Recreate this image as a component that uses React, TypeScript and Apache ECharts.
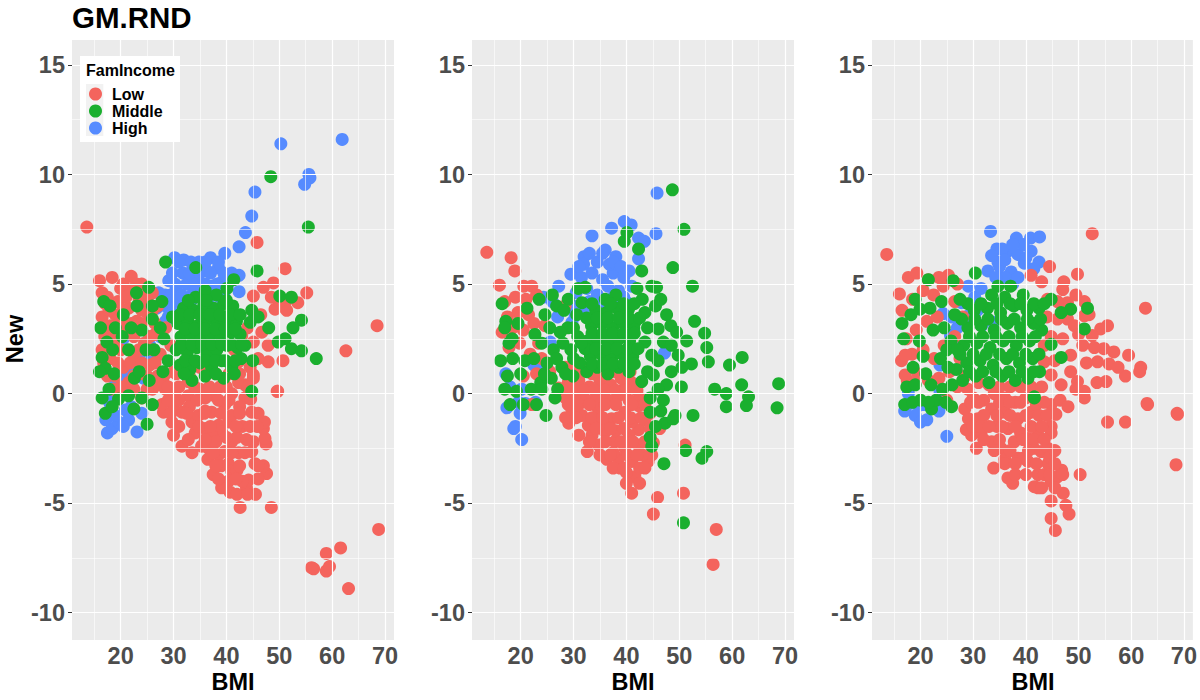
import React, { useEffect, useRef } from "react";
import * as echarts from "echarts";

const categories = ["Low", "Middle", "High"];
const colors = ["#F4645D", "#1AAF2E", "#568BFF"];
const xTicks = [20, 30, 40, 50, 60, 70];
const xMinor = [15, 25, 35, 45, 55, 65];
const yTicks = [-10, -5, 0, 5, 10, 15];
const yMinor = [-7.5, -2.5, 2.5, 7.5, 12.5];
const panelTitle = "GM.RND";
const xTitle = "BMI";
const yTitle = "New";
const legendTitle = "FamIncome";

// ---------- Panel 1 ----------
const p1Low = [
  [13.6, 7.6], [45.8, 6.9], [51.1, 5.7], [55.2, 4.6], [68.5, 3.1], [62.6, 1.95], [50.7, 1.5], [49.6, 0.1],
  [45.1, 4.45], [47.0, 4.85], [48.9, 5.05], [51.1, 4.15], [53.5, 4.15], [49.2, 3.85], [51.4, 3.8], [46.7, 2.8],
  [47.9, 2.2], [47.9, 1.45], [45.1, 2.35], [46.0, 1.6], [45.1, 0.85], [42.9, 2.65], [42.3, 1.45], [44.0, 3.0],
  [46.5, 3.6], [48.5, 4.4], [50.0, 4.2], [44.5, 1.2], [43.5, 0.4], [41.5, 2.0],
  [16.0, 5.15], [18.4, 5.3], [22.0, 5.35], [17.1, 4.1], [16.5, 3.5], [18.0, 3.1], [20.0, 4.8], [24.0, 5.0],
  [26.0, 4.6], [19.5, 4.2], [21.5, 3.9], [23.5, 4.3], [17.0, 2.6], [19.0, 2.2], [21.0, 2.8], [23.0, 3.3],
  [25.0, 3.7], [27.0, 4.0], [18.0, 1.6], [20.5, 1.2], [22.5, 1.8], [24.5, 2.3], [26.5, 2.7], [28.5, 3.0],
  [17.5, 0.8], [21.5, 0.5], [23.5, 0.9], [25.5, 1.3], [27.5, 1.8], [29.5, 2.2], [30.0, 1.0], [28.0, 0.6],
  [26.0, 0.2], [16.5, 4.6], [19.0, 3.6], [22.0, 4.7], [25.0, 4.3], [20.0, 0.3], [24.0, -0.2],
  [20.5, 5.0], [23.0, 5.0], [17.5, 4.4], [21.0, 4.4], [24.5, 4.4], [17.8, 3.8], [20.5, 3.8], [24.0, 3.8],
  [26.0, 3.8], [20.0, 3.2], [22.0, 3.2], [24.0, 3.2], [26.5, 3.2], [18.0, 2.6], [22.5, 2.6], [25.5, 2.6],
  [16.5, 2.0], [20.0, 2.0], [23.5, 2.0], [26.0, 2.0], [16.8, 1.4], [19.5, 1.4], [21.8, 1.4], [24.0, 1.4],
  [26.5, 1.4], [19.0, 0.8], [22.5, 0.8], [25.0, 0.8], [27.0, 0.8], [18.5, 0.2], [22.5, 0.2], [25.0, 0.2],
  [28.5, 0.2],
  [42.3, 0.5], [45.1, 0.7], [37.8, -0.1], [36.0, -0.2], [32.8, -0.1], [29.7, 0.1], [27.2, 0.4], [32.8, 0.55],
  [28.1, -0.85], [27.8, -0.5], [31.6, -0.85], [33.5, -1.3], [34.7, -1.0], [37.2, -0.85], [39.7, -0.5], [30.0, -1.9],
  [29.7, -1.3], [31.6, -2.4], [34.1, -1.8], [36.0, -1.6], [38.5, -1.45], [40.4, -1.3], [41.0, -1.0], [39.1, -1.75],
  [37.2, -1.9], [35.3, -2.4], [36.6, -2.5], [41.0, -2.2], [38.5, -2.8], [39.7, -2.65], [42.3, -2.7], [40.4, -3.2],
  [41.0, -3.55], [40.4, -4.0], [37.5, -3.7], [39.1, -4.3], [40.7, -4.5], [42.6, -5.2], [48.5, -5.2], [45.5, -4.6],
  [43.8, -4.3], [44.2, -3.95], [47.6, -3.65], [47.0, -3.3], [45.4, -3.2], [44.8, -2.65], [45.1, -2.2], [47.5, -2.3],
  [47.3, -2.05], [47.0, -1.6], [47.2, -1.3], [44.8, -0.85], [43.5, -0.2], [44.6, -0.25], [49.7, 0.1],
  [33.0, 0.8], [35.0, 1.2], [38.0, 0.9], [40.0, 0.3], [35.0, 0.2], [31.0, 0.3], [30.0, -0.5], [33.0, -0.6],
  [36.0, -0.8], [38.5, -0.3], [41.0, 0.0], [42.5, -0.6], [43.0, -1.5], [42.0, -2.0], [40.0, -2.0], [38.0, -2.2],
  [36.5, -3.0], [39.0, -3.3], [42.0, -3.5], [43.0, -4.0],
  [28.5, 0.9], [30.5, 0.9], [40.5, 0.9], [42.5, 0.9], [29.0, 0.3], [34.0, 0.3], [36.8, 0.3], [38.8, 0.3],
  [44.0, 0.3], [29.0, -0.3], [31.0, -0.3], [34.5, -0.3], [40.5, -0.3], [29.5, -0.9], [32.5, -0.9], [35.8, -0.9],
  [39.0, -0.9], [42.5, -0.9], [46.0, -0.9], [31.0, -1.5], [34.8, -1.5], [37.0, -1.5], [41.8, -1.5], [44.5, -1.5],
  [45.8, -1.5], [32.8, -2.1], [36.0, -2.1], [43.8, -2.1], [33.5, -2.7], [37.5, -2.7], [41.0, -2.7], [43.5, -2.7],
  [38.0, -3.3], [42.5, -3.3], [46.0, -3.3], [38.5, -3.9], [41.8, -3.9], [46.0, -3.9], [42.0, -4.6], [44.0, -4.6],
  [68.8, -6.2], [61.6, -7.05], [58.9, -7.3], [56.5, -8.0], [58.9, -8.1], [59.5, -7.9], [63.1, -8.9], [56.1, -7.95],
];
const p1Middle = [
  [48.4, 9.9], [55.5, 7.6], [45.8, 5.6], [57.0, 1.6], [44.8, 0.1], [28.5, 6.0], [34.2, 5.75], [25.3, 4.85],
  [36.0, 4.7], [40.1, 4.8], [41.4, 5.2],
  [52.3, 4.4], [54.2, 3.35], [52.6, 3.0], [51.1, 2.5], [49.8, 2.35], [52.3, 2.05], [54.2, 1.95], [44.8, 3.8],
  [44.5, 3.25], [50.1, 4.45], [48.0, 3.0], [46.0, 3.5], [43.5, 2.2], [45.0, 1.5],
  [31.2, 1.3], [33.1, 1.1], [35.0, 1.4], [37.2, 1.2], [39.1, 1.5], [41.0, 1.2], [42.8, 1.6],
  [30.5, 2.0], [32.6, 1.9], [34.4, 2.1], [36.3, 1.8], [38.2, 2.0], [40.1, 2.2], [42.1, 2.1],
  [31.4, 2.6], [33.3, 2.7], [35.2, 2.5], [37.0, 2.7], [39.0, 2.6], [40.9, 2.8], [42.6, 2.7],
  [30.8, 3.2], [32.7, 3.3], [34.6, 3.1], [36.5, 3.4], [38.4, 3.2], [40.3, 3.4], [41.9, 3.3],
  [31.9, 3.9], [33.8, 3.8], [35.7, 4.0], [37.6, 3.9], [39.5, 4.1], [41.2, 4.0],
  [34.2, 4.4], [38.1, 4.5], [36.0, 0.8], [39.5, 0.7], [33.5, 0.6],
  [32.2, 1.5], [34.1, 1.5], [36.0, 1.5], [37.9, 1.5], [39.8, 1.5], [41.7, 1.5],
  [31.5, 2.25], [33.4, 2.25], [35.3, 2.25], [37.2, 2.25], [39.1, 2.25], [41.0, 2.25], [42.9, 2.25],
  [32.2, 2.95], [34.1, 2.95], [36.0, 2.95], [37.9, 2.95], [39.8, 2.95], [41.7, 2.95],
  [31.2, 3.6], [33.1, 3.6], [35.0, 3.6], [36.9, 3.6], [38.8, 3.6], [40.7, 3.6], [42.6, 3.6],
  [32.8, 4.25], [36.2, 4.25], [40.0, 4.25], [32.0, 0.9], [38.0, 0.9], [41.5, 0.9],
  [16.5, 1.65], [17.4, 2.35], [17.1, 1.15], [17.1, -0.9], [19.6, -0.25], [25.0, -1.4], [16.2, 3.0], [20.3, 2.6],
  [24.0, 2.9], [26.0, 3.4], [27.8, 4.2], [23.1, 4.0], [18.8, 0.9], [22.6, 0.7], [26.3, 2.0], [28.2, 2.5],
  [29.8, 3.5], [17.8, 0.2], [21.5, -0.1], [25.4, 0.6], [29.0, 1.5], [18.4, -0.6], [22.5, -0.7], [26.0, -0.5],
  [16.8, 4.2], [23.0, 4.6], [20.5, 3.6],
  [18.5, 2.0], [21.5, 2.0], [24.8, 2.0], [19.0, 3.0], [22.0, 3.0], [27.5, 3.0], [16.0, 1.0], [23.5, 1.0],
  [28.0, 1.0], [18.0, 4.0], [26.0, 4.0], [16.5, -0.2], [24.0, -0.2],
];
const p1High = [
  [61.9, 11.6], [50.3, 11.4], [55.6, 10.0], [55.8, 9.85], [54.8, 9.55], [45.4, 9.2], [44.8, 8.1], [43.6, 7.35],
  [42.4, 6.7], [39.7, 6.4], [42.4, 5.4], [42.4, 4.65],
  [30.2, 6.2], [31.9, 6.1], [33.3, 6.0], [37.0, 6.2], [38.5, 5.75], [31.8, 5.5], [29.1, 5.15], [28.4, 4.5],
  [30.5, 4.8], [32.5, 5.0], [34.5, 5.3], [36.3, 5.6], [35.2, 4.6], [37.3, 4.9], [39.2, 5.1], [33.6, 4.3],
  [31.0, 4.3], [36.5, 4.2], [38.8, 4.4], [34.8, 6.0], [29.8, 4.2],
  [29.5, 4.5], [31.5, 4.5], [33.5, 4.5], [35.5, 4.5], [37.5, 4.5], [39.5, 4.5], [30.3, 5.0], [34.0, 5.0],
  [36.0, 5.0], [38.2, 5.0], [40.3, 5.0], [29.8, 5.5], [33.0, 5.5], [35.0, 5.5], [37.0, 5.5], [39.5, 5.5],
  [41.0, 5.5], [31.0, 6.0], [36.0, 6.0], [38.5, 6.0],
  [28.5, 4.0], [30.0, 3.9], [29.0, 3.5], [27.2, 4.6], [26.8, 3.9], [31.3, 3.8], [32.6, 3.7],
  [28.5, 3.3], [30.9, 3.45], [23.5, 1.8], [25.9, 1.7], [25.5, 2.2], [20.9, 0.7], [24.3, 0.7], [22.0, 1.2],
  [19.5, 1.0], [27.5, 2.6], [20.5, 2.5],
  [17.5, -1.8], [18.4, -1.6], [23.1, -1.75], [19.6, -1.3], [18.0, -0.9], [18.0, -0.45], [20.2, 0.1], [20.9, -0.75],
  [24.0, -0.9], [19.0, -0.2], [21.5, -1.2], [17.2, -1.2], [18.9, -1.0], [20.5, -1.5], [22.0, -0.6], [21.5, 0.2],
  [17.0, -0.2], [19.0, 0.4],
];

// ---------- Panel 2 ----------
const p2Low = [
  [13.6, 6.45], [18.2, 6.2], [18.9, 5.6], [16.0, 4.95], [20.6, 4.9], [22.1, 4.9], [28.4, 4.0], [23.4, 2.3],
  [24.6, 3.1], [27.2, 0.25], [32.2, 1.15], [39.7, 0.25], [40.7, 1.0],
  [17.0, 4.2], [19.0, 4.4], [21.0, 4.3], [23.0, 4.5], [17.5, 3.5], [19.5, 3.7], [21.5, 3.6], [16.5, 2.8],
  [18.5, 3.0], [20.5, 2.9], [22.5, 3.2], [17.8, 2.1], [19.8, 2.3], [21.8, 1.8], [24.0, 1.6], [25.5, 1.0],
  [23.0, 0.9], [20.5, 0.8],
  [28.5, 1.2], [30.5, 1.3], [33.5, 0.9], [35.5, 1.3], [37.5, 1.0], [39.5, 1.3], [29.0, 0.5], [31.0, 0.6],
  [33.0, 0.3], [35.0, 0.6], [37.0, 0.4], [39.0, 0.7], [41.0, 0.5], [28.5, -0.2], [30.5, -0.1], [32.5, -0.3],
  [34.5, -0.1], [36.5, -0.3], [38.5, -0.1], [40.5, -0.3], [42.5, -0.2],
  [22.1, -0.5], [29.7, -0.7], [29.1, -1.35], [31.0, -1.9], [32.6, -2.65], [34.7, -2.35], [36.3, -3.0], [38.8, -3.4],
  [41.6, -3.8], [41.0, -4.55], [45.1, -5.5], [45.9, -4.75], [50.8, -4.55], [57.0, -6.2], [56.4, -7.8], [45.1, -2.25],
  [44.8, -2.8], [44.1, -3.1], [51.1, -2.35], [46.3, -1.6], [42.3, -1.65], [39.7, -2.5], [37.8, -2.2], [36.0, -1.75],
  [32.8, -1.45], [31.6, -1.0], [37.2, -1.15], [39.7, -0.85], [42.3, -0.55], [34.7, -0.7], [41.0, -3.1], [38.5, -2.95],
  [42.3, -2.35],
  [33.5, -1.9], [35.5, -1.3], [38.0, -1.7], [40.5, -1.9], [43.5, -1.2], [41.0, -1.3], [43.0, -2.8], [40.0, -3.6],
  [37.5, -2.7], [35.0, -0.5], [44.5, -0.9],
  [29.5, 1.0], [31.5, 1.0], [34.5, 1.0], [36.5, 1.0], [38.5, 1.0], [28.0, 0.15], [30.0, 0.15], [32.0, 0.15],
  [34.0, 0.15], [36.0, 0.15], [38.0, 0.15], [40.0, 0.15], [42.0, 0.15], [29.0, -0.5], [31.0, -0.5], [33.0, -0.5],
  [36.0, -0.5], [38.0, -0.5], [41.0, -0.5], [43.5, -0.5], [28.5, -1.1], [30.5, -1.1], [33.5, -1.1], [35.5, -1.1],
  [38.5, -1.1], [40.8, -1.1], [42.8, -1.1], [34.3, -1.6], [37.0, -1.6], [39.5, -1.6], [44.5, -1.6], [33.0, -2.2],
  [36.0, -2.2], [39.0, -2.2], [41.2, -2.2], [43.5, -2.2], [35.0, -2.8], [37.0, -2.8], [40.2, -2.8], [42.0, -2.8],
  [37.5, -3.4], [39.5, -3.4], [42.5, -3.4], [43.5, -3.4], [40.0, -4.1], [42.5, -4.1],
];
const p2Middle = [
  [48.7, 9.3], [50.9, 7.5], [48.8, 5.75], [52.5, 4.9], [52.9, 3.3], [54.8, 2.75], [55.2, 2.1], [51.4, 2.4],
  [55.5, 1.45], [52.3, 1.35], [59.5, 1.3], [61.9, 1.65], [56.7, 0.2], [58.9, 0.0], [61.8, 0.4], [63.1, -0.15],
  [58.9, -0.6], [62.7, -0.55], [68.8, 0.45], [68.5, -0.65], [39.6, 6.95], [40.1, 7.35], [42.3, 6.6], [42.9, 5.6],
  [44.8, 4.9], [45.7, 4.85], [45.5, 4.0], [47.6, 3.6], [48.4, 3.1], [46.0, 2.95], [47.0, 2.35], [44.8, 1.75],
  [43.5, 2.35], [41.6, 3.25], [40.4, 3.85], [49.8, 1.75], [48.5, 1.0], [50.4, 0.3], [47.6, 0.4], [45.1, 0.85],
  [42.9, 0.55], [44.5, -0.2], [47.0, -0.3], [49.2, -1.0], [52.6, -1.0], [32.2, 4.85], [30.9, 4.8], [31.6, 4.15],
  [24.8, -1.0], [44.5, -0.85], [44.5, -2.0], [44.8, -2.4], [47.1, -3.2], [47.3, -1.35], [48.9, -1.15], [51.2, -2.6],
  [55.2, -2.65], [54.3, -2.95], [50.8, -5.9],
  [44.0, 3.0], [46.5, 4.3], [43.0, 4.3], [44.0, 1.0], [46.0, 1.5], [48.5, 2.2], [46.5, -0.8], [45.5, -1.5],
  [43.5, 3.7], [49.5, 2.8], [50.5, 1.2], [46.0, 0.2], [42.0, 4.8],
  [32.5, 1.0], [34.5, 1.2], [36.5, 0.9], [38.5, 1.2], [40.5, 1.0], [33.2, 1.7], [35.2, 1.8], [37.2, 1.6],
  [39.2, 1.8], [41.2, 1.7], [32.6, 2.4], [34.6, 2.5], [36.6, 2.3], [38.6, 2.5], [40.6, 2.4], [33.4, 3.1],
  [35.4, 3.2], [37.4, 3.0], [39.4, 3.2], [41.4, 3.0], [34.2, 3.8], [36.2, 3.7], [38.2, 3.9], [40.0, 3.6],
  [36.0, 4.3], [38.0, 4.5],
  [33.5, 1.35], [35.5, 1.35], [37.5, 1.35], [39.5, 1.35], [41.5, 1.35], [32.2, 2.05], [34.2, 2.05], [36.2, 2.05],
  [38.2, 2.05], [40.2, 2.05], [42.2, 2.05], [33.5, 2.75], [35.5, 2.75], [37.5, 2.75], [39.5, 2.75], [41.5, 2.75],
  [32.5, 3.45], [34.5, 3.45], [36.5, 3.45], [38.5, 3.45], [40.5, 3.45], [42.5, 3.45], [33.5, 4.1], [37.0, 4.1],
  [39.5, 4.1], [41.5, 4.1],
  [16.2, 1.5], [17.5, 0.8], [18.4, 2.5], [17.2, 3.3], [19.5, 3.2], [20.8, 1.5], [22.7, 2.7], [23.8, 0.5],
  [24.6, 3.6], [26.2, 2.0], [26.8, 4.0], [27.8, 1.2], [28.9, 3.0], [29.5, 2.0], [30.6, 3.6], [29.9, 0.8],
  [26.5, -0.2], [20.5, -0.5], [21.2, 3.9], [25.0, 1.4], [22.0, 0.2], [27.5, 2.8], [30.8, 2.6],
  [31.2, 1.4], [16.5, 4.1], [19.2, 0.1], [23.5, 4.3], [25.8, 0.7], [29.0, 4.3],
  [26.0, 4.5], [28.2, 3.8], [17.0, 3.0], [25.5, 3.0],
  [30.0, 3.0], [17.8, 2.3], [24.0, 2.3], [28.0, 2.3], [31.5, 2.3], [18.5, 1.6], [22.5, 1.6],
  [26.8, 1.6], [30.0, 1.6], [20.0, 0.9], [24.5, 0.9], [28.5, 0.9], [17.0, 0.2], [24.0, 0.2], [27.0, 0.2],
  [18.0, -0.5], [23.0, -0.5],
];
const p2High = [
  [45.8, 9.15], [37.2, 7.55], [33.5, 7.2], [39.6, 7.85], [40.9, 7.7], [45.6, 7.3], [42.3, 7.1], [43.4, 6.95],
  [42.3, 6.15], [36.0, 6.55], [38.0, 6.25], [32.0, 6.25], [31.9, 5.9], [29.5, 5.45], [27.2, 4.9], [28.1, 3.85],
  [30.3, 3.55], [29.7, 3.25], [24.3, 4.4], [25.6, 2.35], [22.5, 1.3], [24.0, 1.15], [47.2, 1.85], [40.1, 4.15],
  [37.5, 4.4],
  [30.5, 4.6], [32.5, 4.8], [34.5, 4.5], [36.5, 4.9], [38.5, 4.7], [31.5, 5.3], [33.5, 5.5], [35.5, 5.2],
  [37.5, 5.5], [39.5, 5.3], [34.5, 6.0], [36.8, 5.9], [33.0, 4.2], [35.5, 4.2], [39.5, 4.4],
  [31.0, 5.8], [33.0, 6.4], [35.5, 6.4], [37.5, 6.0], [39.0, 5.8], [40.5, 5.6], [41.0, 4.9], [30.0, 4.0],
  [32.0, 3.9], [26.0, 4.2], [27.0, 3.5],
  [18.0, 0.3], [20.2, 0.2], [19.6, -0.4], [17.4, -0.65], [19.9, -0.9], [19.0, -1.5], [18.7, -1.6], [20.2, -2.1],
  [20.9, -0.45], [22.8, -0.4], [17.2, 0.9],
];

// ---------- Panel 3 ----------
const p3Low = [
  [13.6, 6.35], [52.6, 7.3], [62.7, 3.9], [68.7, -0.9], [44.5, 5.8], [49.8, 5.45], [47.2, 5.1], [47.0, 4.75],
  [41.0, 5.4], [51.1, 4.2], [55.5, 3.1], [54.2, 2.95], [52.6, 2.65], [54.8, 2.05], [56.7, 1.9], [59.5, 1.75],
  [61.8, 1.2], [61.6, 1.0], [58.9, 0.8], [55.2, 0.55], [55.8, 1.35], [53.6, 1.45], [51.1, 0.1], [49.8, 0.55],
  [48.5, 1.0], [46.7, 0.4], [48.5, 1.75], [50.8, 2.2], [47.9, 3.4], [49.2, 3.1], [46.0, 3.4], [44.8, 2.6],
  [44.1, 4.3], [47.9, 4.15], [51.1, 3.55], [43.5, 2.2], [43.5, 1.45], [44.8, 0.85], [63.0, -0.45], [44.8, -0.5],
  [45.5, 1.5], [47.0, 2.5], [46.0, 4.2], [49.5, 4.5], [52.0, 3.6], [50.0, 2.7], [53.0, 2.1], [51.5, 1.4],
  [46.5, -0.3], [48.0, -0.6], [49.5, 0.2], [57.5, 1.2], [53.5, 0.5], [44.0, 3.5], [43.0, 5.1],
  [55.5, -1.3], [58.9, -1.3], [63.1, -0.5], [68.8, -0.95], [68.5, -3.25], [51.1, -0.2], [45.7, -0.95], [44.8, -1.5],
  [44.8, -1.8], [50.3, -3.7], [46.8, -3.5], [47.1, -4.55], [47.6, -5.1], [48.2, -5.5], [44.8, -4.9], [44.8, -5.7],
  [45.6, -6.25], [42.3, -4.3], [41.6, -4.25], [37.5, -4.1], [36.6, -3.85], [33.9, -3.4], [30.6, -2.5], [29.7, -1.9],
  [28.7, -1.65], [29.1, -1.15], [28.4, -0.7], [33.5, -0.7], [33.5, -2.2], [35.3, -2.5], [38.5, -2.95], [40.4, -3.1],
  [42.3, -3.7], [43.5, -3.7], [44.2, -3.2], [42.9, -2.65], [44.2, -2.5], [44.5, -2.9], [39.4, -2.95], [37.8, -2.2],
  [40.4, -2.05], [42.3, -1.9], [36.6, -1.6], [38.5, -1.15], [41.0, -0.85], [36.0, -0.85], [30.9, -1.15], [44.8, -4.0],
  [46.0, -3.8],
  [30.0, -0.2], [32.0, -0.3], [34.0, 0.0], [36.0, -0.2], [38.0, -0.4], [40.0, -0.2], [42.0, -0.5], [31.5, -1.8],
  [34.5, -1.5], [39.0, -1.8], [41.5, -2.5], [36.0, -3.0], [33.0, 0.4], [31.0, 0.5], [29.0, 0.2],
  [35.0, 0.3], [37.0, 0.3], [39.0, 0.3], [41.0, 0.3], [43.0, 0.3], [29.5, -0.4], [31.0, -0.4], [35.0, -0.4],
  [37.0, -0.4], [39.0, -0.4], [43.5, -0.4], [32.0, -1.0], [34.5, -1.0], [37.0, -1.0], [40.0, -1.0], [42.5, -1.0],
  [44.0, -1.0], [30.0, -1.5], [31.5, -1.5], [33.0, -1.5], [35.5, -1.5], [38.0, -1.5], [41.0, -1.5], [43.0, -1.5],
  [32.0, -2.1], [35.0, -2.1], [39.5, -2.1], [41.5, -2.1], [43.5, -2.1], [34.0, -2.6], [37.0, -2.6], [40.5, -2.6],
  [45.5, -2.6], [36.0, -3.2], [38.0, -3.2], [42.0, -3.2], [45.5, -3.2], [38.0, -3.7], [40.0, -3.7], [44.5, -3.7],
  [47.0, -3.7], [43.0, -4.3], [45.5, -4.3],
  [16.0, 4.55], [17.7, 5.3], [19.3, 5.5], [25.3, 5.4], [16.5, 3.8], [18.5, 4.3], [20.5, 4.7], [22.5, 4.5],
  [24.3, 4.9], [17.3, 2.5], [19.2, 2.9], [21.2, 3.3], [23.2, 3.5], [16.4, 1.5], [18.4, 1.8], [20.5, 2.0],
  [22.6, 1.6], [24.5, 2.2], [26.5, 2.6], [17.5, 0.6], [19.5, 0.9], [21.5, 0.6], [23.5, 0.7], [25.5, 1.0],
  [27.5, 1.6], [28.5, 0.8], [17.1, 1.75], [17.1, 0.85],
  [21.5, 5.2], [23.5, 5.3], [27.0, 5.0], [26.5, 4.2], [28.0, 3.5], [27.0, 0.3], [25.0, -0.3],
];
const p3Middle = [
  [30.4, 5.5], [26.2, 5.15], [21.5, 5.2], [34.7, 4.9], [37.1, 4.9], [44.8, 4.3], [51.7, 3.9], [48.5, 3.85],
  [46.7, 3.7], [51.1, 2.95], [16.5, 3.2], [19.9, 3.85], [44.8, 2.25], [42.6, 1.0], [40.4, 0.7], [41.6, -0.15],
  [46.7, 1.65], [22.1, -0.7], [25.9, -0.6], [41.6, -0.2],
  [28.0, 0.6], [30.5, 0.8], [33.0, 0.5], [35.5, 0.8], [38.0, 0.6], [28.8, 1.4], [31.3, 1.5], [33.8, 1.3],
  [36.3, 1.6], [38.8, 1.4], [41.3, 1.6], [28.2, 2.2], [30.7, 2.3], [33.2, 2.1], [35.7, 2.4], [38.2, 2.2],
  [40.7, 2.4], [43.0, 2.9], [29.0, 3.0], [31.5, 3.1], [34.0, 2.9], [36.5, 3.2], [39.0, 3.0], [41.5, 3.2],
  [30.2, 3.8], [32.7, 3.9], [35.2, 3.7], [37.7, 4.0], [40.2, 3.8], [42.5, 3.9], [33.5, 4.5], [36.0, 4.4],
  [39.5, 4.5],
  [29.3, 1.0], [31.8, 1.0], [34.3, 1.0], [36.8, 1.0], [39.3, 1.0], [41.5, 1.0], [27.5, 1.8], [30.0, 1.8],
  [32.5, 1.8], [35.0, 1.8], [37.5, 1.8], [40.0, 1.8], [42.5, 1.8], [29.3, 2.6], [31.8, 2.6], [34.3, 2.6],
  [36.8, 2.6], [39.3, 2.6], [41.8, 2.6], [27.8, 3.4], [30.3, 3.4], [32.8, 3.4], [35.3, 3.4], [37.8, 3.4],
  [40.3, 3.4], [42.8, 3.4], [29.0, 4.1], [31.5, 4.1], [34.5, 4.1], [37.0, 4.1], [39.0, 4.1], [41.5, 4.1],
  [43.5, 4.1],
  [16.8, 2.5], [18.6, 1.2], [17.4, 0.3], [19.8, 2.4], [21.0, 0.9], [22.4, 2.9], [23.8, 1.6], [24.2, 0.2],
  [25.8, 2.4], [26.5, 3.6], [20.0, -0.3], [18.2, 3.6], [21.8, 3.9], [24.0, 4.2], [26.8, 1.1], [17.0, -0.5],
  [23.0, -0.3], [20.5, 1.7],
  [24.5, 3.0], [25.0, 2.0], [27.0, 2.0],
  [25.2, 1.2], [19.0, 0.4], [22.0, 0.4], [26.0, 0.4], [18.5, -0.4], [21.5, -0.4],
  [24.8, -0.4], [19.0, 4.3], [27.5, 4.3],
];
const p3High = [
  [33.3, 7.4], [38.2, 7.1], [40.9, 7.1], [42.6, 7.15], [41.0, 6.5], [36.6, 6.5], [38.5, 6.35], [42.5, 6.0],
  [39.7, 5.95], [34.7, 6.0], [32.8, 5.6], [37.2, 5.55], [36.0, 5.3], [29.1, 4.9], [30.3, 4.4], [27.8, 4.15],
  [29.1, 3.55], [24.3, 3.65], [25.9, 3.5], [31.6, 3.1], [33.8, 3.25], [25.7, 2.65], [37.5, 5.0], [23.7, 1.3],
  [17.7, 0.0], [19.6, -0.55], [23.7, 0.1], [18.0, -0.45], [19.0, -1.0], [21.2, -1.2], [25.0, -1.95], [20.6, -0.5],
  [34.5, 6.6], [39.5, 6.8], [35.0, 5.8],
  [33.5, 6.3], [35.5, 6.6], [37.5, 6.8], [40.0, 6.2], [41.5, 5.7], [38.5, 5.3], [34.3, 5.3], [31.5, 4.8],
  [36.0, 6.1], [27.0, 3.0], [30.8, 3.8], [26.8, 2.2],
  [17.0, -0.8], [18.5, 0.4], [20.0, -1.3], [22.0, -0.5], [23.5, -0.8],
];

const panels = [
  { Low: p1Low, Middle: p1Middle, High: p1High },
  { Low: p2Low, Middle: p2Middle, High: p2High },
  { Low: p3Low, Middle: p3Middle, High: p3High },
];

const FONT = "'Liberation Sans', Arial, sans-serif";
const gridLefts = [72, 472, 872];
const gridWidth = 322;
const gridTop = 40;
const gridHeight = 600;
const X_MIN = 10.8;
const X_MAX = 71.7;
const Y_MIN = -11.25;
const Y_MAX = 16.14;

function buildOption() {
  const grids: any[] = [];
  const xAxes: any[] = [];
  const yAxes: any[] = [];
  const series: any[] = [];
  const drawOrder = ["High", "Low", "Middle"];

  panels.forEach((panel: any, i) => {
    grids.push({
      left: gridLefts[i],
      top: gridTop,
      width: gridWidth,
      height: gridHeight,
      show: true,
      backgroundColor: "#EBEBEB",
      borderWidth: 0,
    });
    xAxes.push({
      type: "value",
      gridIndex: i,
      min: X_MIN,
      max: X_MAX,
      splitLine: { show: false },
      axisLine: { show: false },
      axisTick: { show: true, length: 4, customValues: xTicks, lineStyle: { color: "#333333", width: 1 } },
      axisLabel: {
        customValues: xTicks,
        fontFamily: FONT,
        fontSize: 23.5,
        fontWeight: "bold",
        color: "#4D4D4D",
        margin: 4,
      },
    });
    yAxes.push({
      type: "value",
      gridIndex: i,
      min: Y_MIN,
      max: Y_MAX,
      splitLine: { show: false },
      axisLine: { show: false },
      axisTick: { show: true, length: 4, customValues: yTicks, lineStyle: { color: "#333333", width: 1 } },
      axisLabel: {
        customValues: yTicks,
        fontFamily: FONT,
        fontSize: 23.5,
        fontWeight: "bold",
        color: "#4D4D4D",
        margin: 7,
      },
    });
    const major = { color: "#FFFFFF", width: 1.2, type: "solid" };
    const minor = { color: "#FFFFFF", width: 0.6, type: "solid" };
    series.push({
      type: "scatter",
      name: "grid" + i,
      xAxisIndex: i,
      yAxisIndex: i,
      data: [],
      z: 1,
      silent: true,
      markLine: {
        silent: true,
        symbol: ["none", "none"],
        label: { show: false },
        animation: false,
        data: [
          ...xMinor.map((v) => ({ xAxis: v, lineStyle: minor })),
          ...yMinor.map((v) => ({ yAxis: v, lineStyle: minor })),
          ...xTicks.map((v) => ({ xAxis: v, lineStyle: major })),
          ...yTicks.map((v) => ({ yAxis: v, lineStyle: major })),
        ],
      },
    });
    drawOrder.forEach((cat) => {
      const ci = categories.indexOf(cat);
      series.push({
        type: "scatter",
        name: cat,
        xAxisIndex: i,
        yAxisIndex: i,
        data: panel[cat],
        symbol: "circle",
        symbolSize: 13,
        z: 3,
        itemStyle: { color: colors[ci], opacity: 1 },
        emphasis: { disabled: true },
      });
    });
  });

  return {
    animation: false,
    backgroundColor: "#FFFFFF",
    grid: grids,
    xAxis: xAxes,
    yAxis: yAxes,
    series,
    legend: {
      data: categories.map((c, i) => ({ name: c, icon: "circle", itemStyle: { color: colors[i] } })),
      orient: "vertical",
      left: 89,
      top: 86,
      itemWidth: 23,
      itemHeight: 13,
      itemGap: 1,
      padding: 0,
      z: 20,
      selectedMode: false,
      textStyle: { fontFamily: FONT, fontSize: 16, fontWeight: "bold", color: "#000000" },
    },
    graphic: [
      {
        type: "rect",
        z: 15,
        shape: { x: 80, y: 56, width: 100, height: 86 },
        style: { fill: "#FFFFFF" },
      },
      {
        type: "rect",
        z: 16,
        shape: { x: 86, y: 84, width: 17.3, height: 52 },
        style: { fill: "#F2F2F2" },
      },
      {
        type: "text",
        z: 16,
        x: 86,
        y: 70,
        style: {
          text: legendTitle,
          font: `bold 16px ${FONT}`,
          fill: "#000000",
          textAlign: "left",
          textVerticalAlign: "middle",
        },
      },
      {
        type: "text",
        z: 16,
        x: 72,
        y: 17,
        style: {
          text: panelTitle,
          font: `bold 29.5px ${FONT}`,
          fill: "#000000",
          textAlign: "left",
          textVerticalAlign: "middle",
        },
      },
      {
        type: "text",
        z: 16,
        x: 15,
        y: 339,
        rotation: Math.PI / 2,
        style: {
          text: yTitle,
          font: `bold 23.5px ${FONT}`,
          fill: "#000000",
          textAlign: "center",
          textVerticalAlign: "middle",
        },
      },
      ...gridLefts.map((l) => ({
        type: "text",
        z: 16,
        x: l + gridWidth / 2,
        y: 682,
        style: {
          text: xTitle,
          font: `bold 23.5px ${FONT}`,
          fill: "#000000",
          textAlign: "center",
          textVerticalAlign: "middle",
        },
      })),
    ],
  };
}

export default function App() {
  const ref = useRef<HTMLDivElement>(null);
  useEffect(() => {
    if (!ref.current) return;
    const chart = echarts.init(ref.current, undefined, { renderer: "svg" });
    chart.setOption(buildOption() as any);
    return () => chart.dispose();
  }, []);
  return (
    <div
      ref={ref}
      style={{ position: "fixed", left: 0, top: 0, width: 1200, height: 700, background: "#fff" }}
    />
  );
}
